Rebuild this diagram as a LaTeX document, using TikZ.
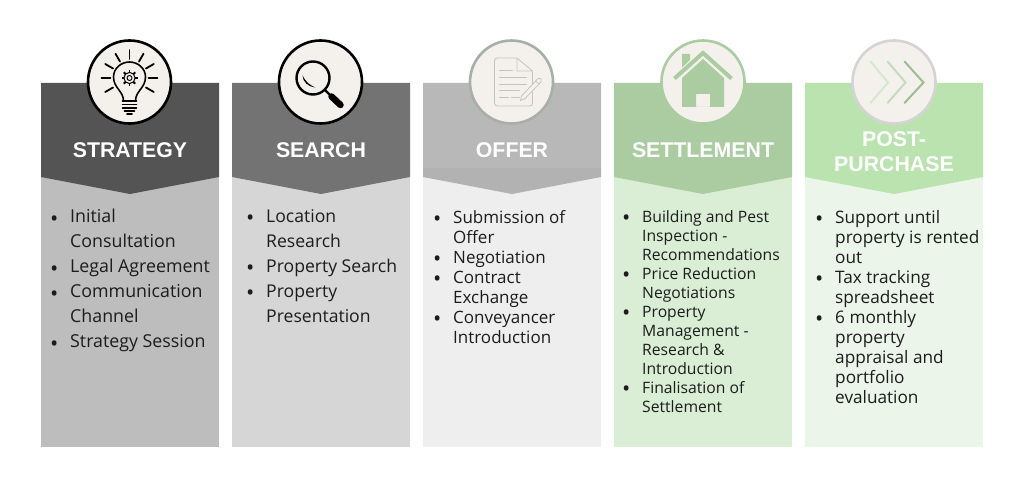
\documentclass[tikz,border=0pt]{standalone}
\usepackage{fontspec}
\setmainfont{Open Sans}
\newfontfamily\titlefont{Liberation Sans}
\usetikzlibrary{positioning}

\definecolor{strategydark}{HTML}{545454}
\definecolor{strategylight}{HTML}{BDBDBD}
\definecolor{searchdark}{HTML}{737373}
\definecolor{searchlight}{HTML}{D6D6D6}
\definecolor{offerdark}{HTML}{B8B8B8}
\definecolor{offerlight}{HTML}{EEEEEE}
\definecolor{settledark}{HTML}{ABCBA1}
\definecolor{settlelight}{HTML}{D9EED5}
\definecolor{postdark}{HTML}{BAE3AF}
\definecolor{postlight}{HTML}{EBF5EA}
\definecolor{iconfill}{HTML}{F4F1EC}
\definecolor{offerring}{HTML}{A6B0A8}
\definecolor{offerline}{HTML}{C4C4BE}
\definecolor{bodyink}{HTML}{1C1C1C}

\newcommand{\bul}{\llap{\smash{\raisebox{-3.500pt}{\fontsize{22}{22}\selectfont\textbullet}}\hskip 11.800pt}}

\tikzset{
  paneltitle/.style={font=\titlefont\fontsize{21.300}{25}\selectfont\bfseries, text=white, align=center, inner sep=0pt},
  paneltext/.style={anchor=north west, align=left, inner sep=0pt, text=bodyink},
  iconring/.style={circle, minimum size=83pt, inner sep=0pt, line width=2.6pt, fill=iconfill},
  glow/.style={line width=2pt, line cap=round},
  offerstroke/.style={draw=offerline, line width=0.8pt, line cap=round, line join=round},
}

\begin{document}
\begin{tikzpicture}[x=1pt, y=-1pt]
\useasboundingbox (0,0) rectangle (1024,489);
\fill[white] (0,0) rectangle (1024,489);

% panels
\foreach \x/\dark/\light/\title/\name/\ty in {
  41/strategydark/strategylight/{STRATEGY}/strategy/149.800,
  232/searchdark/searchlight/{SEARCH}/search/149.800,
  423/offerdark/offerlight/{OFFER}/offer/149.800,
  614/settledark/settlelight/{SETTLEMENT}/settle/149.800,
  805/postdark/postlight/{POST-\\PURCHASE}/post/151.500}
{
  \fill[\light] (\x,177) rectangle ++(178,270);
  \fill[\dark] (\x,83) -- ++(178,0) -- ++(0,94) -- ++(-89,17) -- ++(-89,-17) -- cycle;
  \node[paneltitle] (\name title) at (\x+89,\ty) {\title};
}
\fill[black, opacity=0.03] (423,168) -- (601,168) -- (601,177) -- (512,194) -- (423,177) -- cycle;

% rings
\node[iconring, draw=black] (strategyring) at (129.5,82) {};
\node[iconring, draw=black] (searchring) at (320.5,82) {};
\node[iconring, draw=offerring] (offerring) at (511.5,82) {};
\node[iconring, draw=settledark] (settlering) at (703,82) {};
\node[iconring, draw=black!17] (postring) at (894,82) {};

% bulb
\begin{scope}[shift={(strategyring.center)}, line width=1.6pt, line cap=round, line join=round]
  \foreach \a in {90,60,30,0,-30,120,150,180,210}
    \draw[line width=1.8pt] (0,-4) ++(\a:-19) -- ++(\a:-9);
  \draw (-6,19) .. controls (-6,9) and (-16,6) .. (-16,-5)
     .. controls (-16,-14) and (-8,-20) .. (0,-20)
     .. controls (8,-20) and (16,-14) .. (16,-5)
     .. controls (16,6) and (6,9) .. (6,19);
  \draw (-7,19) -- (7,19) (-7,22.5) -- (7,22.5) (-7,26) -- (7,26);
  \draw (-5,29) -- (5,29) (-2.5,32) -- (2.5,32);
  \draw[line width=1pt] (0,-4) circle (5.6) (0,-4) circle (2.5);
  \foreach \a in {0,45,...,315}
    \draw[line width=1.8pt, line cap=butt] (0,-4) ++(\a:5.400) -- ++(\a:2.600);
\end{scope}

% magnifier
\begin{scope}[shift={(searchring.center)}, line cap=round]
  \draw[line width=2.4pt] (-7.5,-4) circle (16.5);
  \fill (-18,-7) .. controls (-18,0) and (-12,5) .. (-5,5.500)
    .. controls (-11,3) and (-15,0) .. (-18,-7) -- cycle;
  \draw[line width=2.4pt] (4.5,8) -- (11,14.5);
  \draw[line width=6.5pt] (11,14.5) -- (20,23);
\end{scope}

% document
\begin{scope}[shift={(offerring.center)}, offerstroke]
  \draw (5.5,-24) -- (-14,-24) .. controls (-16,-24) and (-17,-23) .. (-17,-21)
    -- (-17,21) .. controls (-17,23) and (-16,24) .. (-14,24) -- (18,24)
    .. controls (20,24) and (21,23) .. (21,21) -- (21,-11) -- (5.5,-24) -- (5.5,-11) -- (21,-11);
  \draw (-12,-12) -- (1,-12);
  \draw (-12,-5) -- (15,-5) (-12,2) -- (15,2) (-12,8.500) -- (8,8.500);
  \draw (-12,15) -- (-3,15) (0,15) -- (8,15);
  \fill[iconfill] (9,15) -- (27,-4) -- (30,0) -- (12,19) -- (8,20) -- cycle;
  \draw (10,14) -- (26,-3) .. controls (27,-4) and (29,-4) .. (29.500,-3) .. controls (30,-2) and (30,-1) .. (29.500,0)
    -- (13,17) -- (9,18.500) -- cycle;
  \draw (24,-1) -- (27.500,2);
\end{scope}

% house
\begin{scope}[shift={(settlering.center)}]
  \fill[settledark] (-21,-28) -- (-13,-28) -- (-13,-22) -- (-21,-14.5) -- cycle;
  \draw[settledark, line width=4pt] (-28.500,-3.500) -- (0,-29) -- (28.500,-3.500);
  \fill[settledark, even odd rule] (0,-23) -- (21,-4) -- (21,25) -- (-21,25) -- (-21,-4) -- cycle
    (-7,12) rectangle (7,25);
\end{scope}

% chevrons
\begin{scope}[shift={(postring.center)}, line width=2pt]
  \draw[settlelight!85!settledark, glow] (-23.500,-20.500) -- (-6,0.500) -- (-23.500,21);
  \draw[settledark!70!white, glow] (-6.500,-20.500) -- (11.500,0.500) -- (-6.500,21);
  \draw[settledark!90!black!90!postdark, glow] (10.500,-20.500) -- (29.500,0.500) -- (10.500,21);
\end{scope}

% lists
\node[paneltext, font=\fontsize{17.800}{25}\selectfont] (strategytext) at (70,209) {%
  \bul Initial\\Consultation\\\bul Legal Agreement\\\bul Communication\\Channel\\\bul Strategy Session};
\node[paneltext, font=\fontsize{17.600}{25}\selectfont] (searchtext) at (266,209) {%
  \bul Location\\Research\\\bul Property Search\\\bul Property\\Presentation};
\node[paneltext, font=\fontsize{17}{20}\selectfont] (offertext) at (453,210) {%
  \bul Submission of\\Offer\\\bul Negotiation\\\bul Contract\\Exchange\\\bul Conveyancer\\Introduction};
\node[paneltext, font=\fontsize{15.700}{19}\selectfont] (settletext) at (642,210) {%
  \bul Building and Pest\\Inspection -\\Recommendations\\\bul Price Reduction\\Negotiations\\\bul Property\\Management -\\Research \&\\Introduction\\\bul Finalisation of\\Settlement};
\node[paneltext, font=\fontsize{17.200}{20}\selectfont] (posttext) at (835,210) {%
  \bul Support until\\property is rented\\out\\\bul Tax tracking\\spreadsheet\\\bul 6 monthly\\property\\appraisal and\\portfolio\\evaluation};
\end{tikzpicture}
\end{document}
